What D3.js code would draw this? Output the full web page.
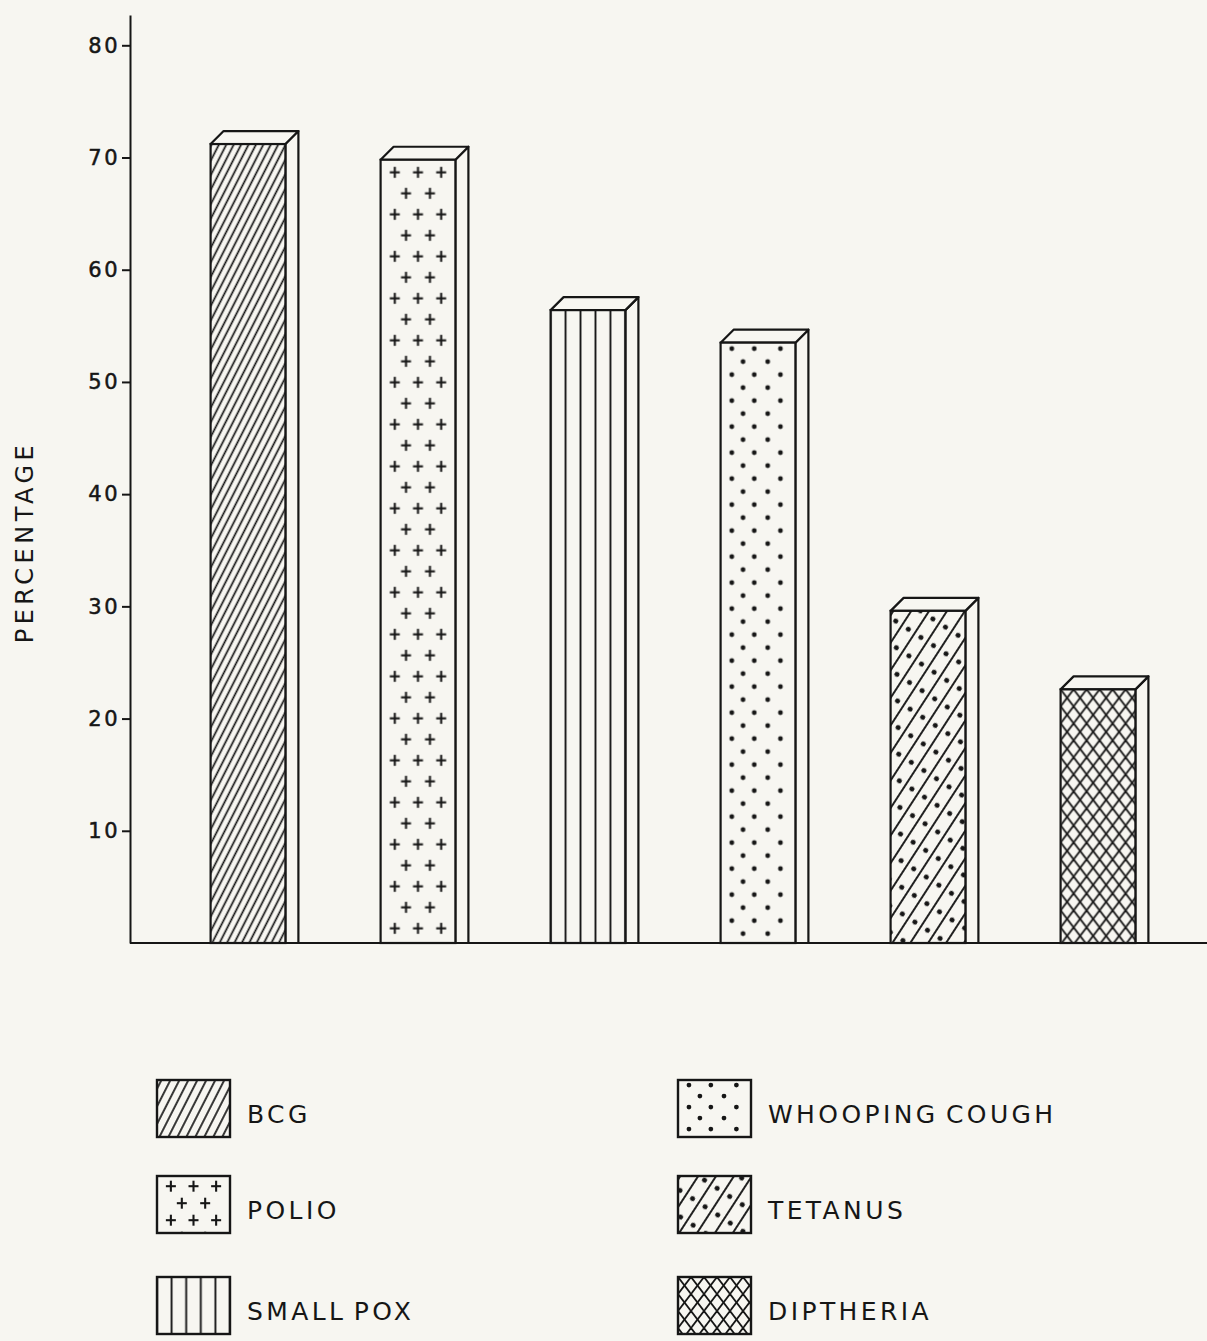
<!DOCTYPE html>
<html>
<head>
<meta charset="utf-8">
<script src="https://cdn.jsdelivr.net/npm/d3@7"></script>
<style>
  body { margin: 0; background: #f7f6f1; }
  svg { display: block; }
  text { font-family: "DejaVu Sans", sans-serif; fill: #161616; }
</style>
</head>
<body>
<svg id="chart" width="1207" height="1341"></svg>
<script>
// data
const categories = ["BCG", "POLIO", "SMALL POX", "WHOOPING COUGH", "TETANUS", "DIPTHERIA"];
const values = [71.2, 69.8, 56.4, 53.5, 29.6, 22.6];
const yTicks = [10, 20, 30, 40, 50, 60, 70, 80];
const fillKinds = ["diag", "plus", "vert", "dots", "diagDots", "cross"];
const yLabel = "PERCENTAGE";

const W = 1207, H = 1341;
const ink = "#161616", paper = "#f7f6f1";

const svg = d3.select("#chart");
svg.append("rect").attr("width", W).attr("height", H).attr("fill", paper);
const defs = svg.append("defs");

const x = d3.scaleBand().domain(categories).range([163, 1183])
  .paddingInner(0.56).paddingOuter(0.28);
const y = d3.scaleLinear().domain([0, 82.7]).range([943, 15]);
const depth = 13;

// hatch patterns, one per shape so the marks line up with its left edge
function makePattern(id, kind, ox, oy, w, legend) {
  const p = defs.append("pattern").attr("id", id)
    .attr("patternUnits", "userSpaceOnUse");
  const line = (x1, y1, x2, y2, sw) => p.append("line")
    .attr("x1", x1).attr("y1", y1).attr("x2", x2).attr("y2", y2)
    .attr("stroke", ink).attr("stroke-width", sw);
  const dot = (cx, cy, r) => p.append("circle")
    .attr("cx", cx).attr("cy", cy).attr("r", r).attr("fill", ink);
  const plus = (cx, cy) => {
    line(cx - 5, cy, cx + 5, cy, 2.1);
    line(cx, cy - 5.5, cx, cy + 5.5, 2.1);
  };

  if (kind === "diag") {
    const s = legend ? 8 : 6.6;
    p.attr("width", s).attr("height", 10).attr("patternTransform", "rotate(27)");
    line(s / 2, 0, s / 2, 10, 1.7);
  } else if (kind === "plus") {
    const h = legend ? 34 : 42;
    p.attr("x", ox).attr("y", oy).attr("width", w).attr("height", h);
    [0.19, 0.5, 0.81].forEach(f => plus(w * f, h * 0.3));
    [0.34, 0.66].forEach(f => plus(w * f, h * 0.8));
  } else if (kind === "vert") {
    const s = w / 5;
    p.attr("x", ox - s / 2).attr("y", 0).attr("width", s).attr("height", 10);
    line(s / 2, 0, s / 2, 10, 1.9);
  } else if (kind === "dots") {
    const h = legend ? 22 : 26;
    p.attr("x", ox).attr("y", oy).attr("width", w).attr("height", h);
    [0.15, 0.45, 0.8].forEach(f => dot(w * f, h * 0.23, 2.4));
    [0.3, 0.63].forEach(f => dot(w * f, h * 0.73, 2.4));
  } else if (kind === "diagDots") {
    p.attr("width", 15).attr("height", 22).attr("patternTransform", "rotate(33)");
    line(2, 0, 2, 22, 1.9);
    dot(9.5, 11, 2.5);
  } else if (kind === "cross") {
    p.attr("x", ox).attr("y", oy).attr("width", 13).attr("height", 17);
    line(-1.3, -1.7, 14.3, 18.7, 1.8);
    line(14.3, -1.7, -1.3, 18.7, 1.8);
  }
  return `url(#${id})`;
}

// bars
const bw = x.bandwidth();
const bars = svg.append("g").selectAll("g.bar")
  .data(categories.map((c, i) => ({ c, v: values[i], kind: fillKinds[i], i })))
  .join("g").attr("class", "bar");

bars.each(function (d) {
  const g = d3.select(this);
  const x0 = x(d.c), x1 = x0 + bw, yt = y(d.v), yb = y(0);
  // right side
  g.append("polygon")
    .attr("points", [[x1, yt], [x1 + depth, yt - depth], [x1 + depth, yb], [x1, yb]].join(" "))
    .attr("fill", paper).attr("stroke", ink).attr("stroke-width", 2.2)
    .attr("stroke-linejoin", "round");
  // top
  g.append("polygon")
    .attr("points", [[x0, yt], [x0 + depth, yt - depth], [x1 + depth, yt - depth], [x1, yt]].join(" "))
    .attr("fill", paper).attr("stroke", ink).attr("stroke-width", 2.2)
    .attr("stroke-linejoin", "round");
  // front
  g.append("rect").attr("x", x0).attr("y", yt).attr("width", bw).attr("height", yb - yt)
    .attr("fill", paper);
  g.append("rect").attr("x", x0).attr("y", yt).attr("width", bw).attr("height", yb - yt)
    .attr("fill", makePattern("bar" + d.i, d.kind, x0, yt, bw, false))
    .attr("stroke", ink).attr("stroke-width", 2.2);
});

// baseline
svg.append("line")
  .attr("x1", 130).attr("x2", W).attr("y1", y(0)).attr("y2", y(0))
  .attr("stroke", ink).attr("stroke-width", 2.2);

// y axis
const yAxis = svg.append("g").attr("transform", "translate(130,0)")
  .call(d3.axisLeft(y).tickValues(yTicks).tickSize(8).tickPadding(2).tickSizeOuter(0));
yAxis.select(".domain").attr("stroke", ink).attr("stroke-width", 2);
yAxis.selectAll(".tick line").attr("stroke", ink).attr("stroke-width", 2);
yAxis.selectAll(".tick text")
  .attr("font-family", "DejaVu Sans, sans-serif")
  .attr("font-size", 21).attr("letter-spacing", 2.5).attr("fill", ink)
  .attr("stroke", ink).attr("stroke-width", 0.5);

svg.append("text")
  .attr("transform", "translate(33,542) rotate(-90)")
  .attr("text-anchor", "middle")
  .attr("font-size", 24).attr("letter-spacing", 4.5)
  .text(yLabel);

// legend
const legCols = [157, 678], legRows = [1080, 1176, 1277];
const legend = svg.append("g").selectAll("g.leg")
  .data(categories.map((c, i) => ({ c, kind: fillKinds[i], i })))
  .join("g").attr("class", "leg")
  .attr("transform", d => `translate(${legCols[Math.floor(d.i / 3)]},${legRows[d.i % 3]})`);

legend.each(function (d) {
  const g = d3.select(this);
  // pattern space is the group's local space
  g.append("rect").attr("width", 73).attr("height", 57).attr("fill", paper);
  g.append("rect").attr("width", 73).attr("height", 57)
    .attr("fill", makePattern("leg" + d.i, d.kind, 0, 0, 73, true))
    .attr("stroke", ink).attr("stroke-width", 2.4);
  g.append("text").attr("x", 90).attr("y", 43)
    .attr("font-size", 25).attr("letter-spacing", 3.4).attr("word-spacing", -4)
    .text(d.c);
});
</script>
</body>
</html>
